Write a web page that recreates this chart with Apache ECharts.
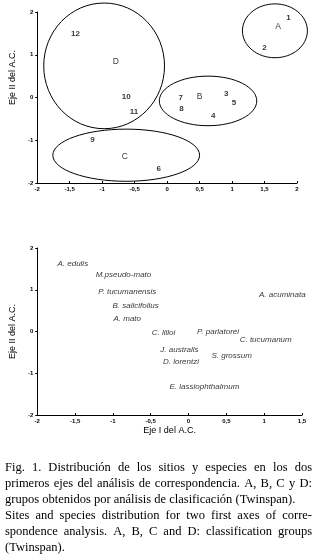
<!DOCTYPE html>
<html><head><meta charset="utf-8">
<script src="https://cdn.jsdelivr.net/npm/echarts@6/dist/echarts.min.js"></script>
<style>html,body{margin:0;padding:0;background:#fff}#c{width:316px;height:560px}</style>
</head><body><div id="c"></div>
<script>
// ---- Top chart: sites (numbers) ----
const siteLabels = ['1','2','12','10','11','9','6','7','8','3','5','4'];
const siteX = [1.87, 1.50, -1.41, -0.63, -0.51, -1.15, -0.13, 0.21, 0.22, 0.91, 1.03, 0.71];
const siteY = [1.86, 1.16, 1.49, 0.01, -0.34, -0.99, -1.67, -0.01, -0.27, 0.08, -0.13, -0.43];

// ---- Top chart: group letters ----
const groupLabels = ['A','B','C','D'];
const groupLabelX = [1.71, 0.50, -0.65, -0.79];
const groupLabelY = [1.65, 0.01, -1.39, 0.85];

// ---- Top chart: group ellipses (centre and radii in axis units) ----
const ellipseCX = [1.66, 0.63, -0.63, -0.97];
const ellipseCY = [1.56, -0.08, -1.35, 0.74];
const ellipseRX = [0.50, 0.75, 1.13, 0.93];
const ellipseRY = [0.63, 0.58, 0.61, 1.47];

// ---- Bottom chart: species ----
const speciesNames = ['A. edulis','M.pseudo-mato','P. tucumanensis','B. salicifolius','A. mato',
  'C. lilloi','P. parlatorei','C. tucumanum','J. australis','S. grossum','D. lorentzi',
  'E. lassiophthalmum','A. acuminata'];
const speciesX = [-1.53, -0.86, -0.81, -0.70, -0.81, -0.33, 0.39, 1.02, -0.12, 0.57, -0.10, 0.21, 1.24];
const speciesY = [1.63, 1.37, 0.96, 0.62, 0.31, -0.02, 0.00, -0.19, -0.43, -0.57, -0.72, -1.32, 0.89];

// ---- Axes ----
const topXMin = -2, topXMax = 2, botXMin = -2, botXMax = 1.5, xStep = 0.5;
const yMin = -2, yMax = 2, yStep = 1;
const yAxisName = 'Eje II del A.C.';
const xAxisName = 'Eje I del A.C.';

// ---- Caption ----
const captionLines = [
  'Fig. 1. Distribución de los sitios y especies en los dos',
  'primeros ejes del análisis de correspondencia. A, B, C y D:',
  'grupos obtenidos por análisis de clasificación (Twinspan).',
  'Sites and species distribution for two first axes of corre-',
  'spondence analysis. A, B, C and D: classification groups',
  '(Twinspan).'
];
const captionJustify = [true, true, false, true, true, false];

const sans = '"Liberation Sans", Arial, sans-serif';
const tickFmt = v => String(v).replace('.', ',');

function xAx(gi, min, max, withName) {
  return {
    gridIndex: gi, type: 'value', min: min, max: max, interval: xStep,
    axisLine: {show: true, onZero: false, lineStyle: {color: '#000', width: 1}},
    axisTick: {show: true, inside: true, length: 2, lineStyle: {color: '#000'}},
    axisLabel: {fontSize: 6, fontWeight: 'bold', color: '#000', margin: 3, fontFamily: sans, formatter: tickFmt},
    splitLine: {show: false},
    name: withName ? xAxisName : '', nameLocation: 'middle', nameGap: 11,
    nameTextStyle: {fontSize: 9, color: '#000', fontFamily: sans}
  };
}
function yAx(gi, pad) {
  return {
    gridIndex: gi, type: 'value', min: yMin, max: yMax, interval: yStep,
    axisLine: {show: true, onZero: false, lineStyle: {color: '#000', width: 1}},
    axisTick: {show: true, length: 2, lineStyle: {color: '#000'}},
    axisLabel: {fontSize: 6, fontWeight: 'bold', color: '#000', margin: 4, fontFamily: sans, formatter: tickFmt},
    splitLine: {show: false},
    name: yAxisName, nameLocation: 'middle', nameGap: 9,
    nameTextStyle: {fontSize: 9, color: '#000', fontFamily: sans, padding: pad}
  };
}

const siteData = siteLabels.map((l, i) => ({value: [siteX[i], siteY[i]], name: l}));
const groupData = groupLabels.map((l, i) => ({value: [groupLabelX[i], groupLabelY[i]], name: l}));
const ellipseData = ellipseCX.map((c, i) => [c, ellipseCY[i], ellipseRX[i], ellipseRY[i]]);
const speciesData = speciesNames.map((n, i) => ({value: [speciesX[i], speciesY[i]], name: n}));

// caption layout (justified lines)
const capFontSize = 12.5, capFamily = '"Liberation Serif", "Times New Roman", serif';
const ctx = document.createElement('canvas').getContext('2d');
ctx.font = capFontSize + 'px ' + capFamily;
const capLeft = 5, capRight = 312, capTop = 468, capStep = 16;
const graphics = [];
captionLines.forEach((line, i) => {
  const y = capTop + i * capStep;
  const st = t => ({text: t, fontSize: capFontSize, fontFamily: capFamily, fill: '#000', verticalAlign: 'middle', align: 'left'});
  if (!captionJustify[i]) { graphics.push({type: 'text', x: capLeft, y: y, style: st(line)}); return; }
  const words = line.split(' ');
  const widths = words.map(w => ctx.measureText(w).width);
  const total = widths.reduce((a, b) => a + b, 0);
  const gap = (capRight - capLeft - total) / (words.length - 1);
  let x = capLeft;
  words.forEach((w, j) => { graphics.push({type: 'text', x: x, y: y, style: st(w)}); x += widths[j] + gap; });
});

const chart = echarts.init(document.getElementById('c'), null, {renderer: 'canvas'});
chart.setOption({
  animation: false,
  backgroundColor: '#fff',
  grid: [
    {left: 25, top: 12, width: 272, height: 171},
    {left: 25, top: 248, width: 277, height: 167}
  ],
  xAxis: [xAx(0, topXMin, topXMax, false), xAx(1, botXMin, botXMax, true)],
  yAxis: [yAx(0, [0, 0, 0, 40]), yAx(1, 0)],
  series: [
    {
      type: 'custom', xAxisIndex: 0, yAxisIndex: 0, clip: false, silent: true,
      data: ellipseData,
      renderItem: function (params, api) {
        const c = api.coord([api.value(0), api.value(1)]);
        const s = api.size([api.value(2), api.value(3)]);
        return {type: 'ellipse', shape: {cx: c[0], cy: c[1], rx: s[0], ry: s[1]},
          style: {fill: null, stroke: '#000', lineWidth: 1}};
      }
    },
    {
      type: 'scatter', xAxisIndex: 0, yAxisIndex: 0, symbolSize: 1, itemStyle: {color: 'rgba(0,0,0,0)'},
      data: siteData,
      label: {show: true, position: 'inside', formatter: p => p.name, fontSize: 8, fontWeight: 'bold', color: '#000', fontFamily: sans}
    },
    {
      type: 'scatter', xAxisIndex: 0, yAxisIndex: 0, symbolSize: 1, itemStyle: {color: 'rgba(0,0,0,0)'},
      data: groupData,
      label: {show: true, position: 'inside', formatter: p => p.name, fontSize: 8.5, color: '#000', fontFamily: sans}
    },
    {
      type: 'scatter', xAxisIndex: 1, yAxisIndex: 1, symbolSize: 1, itemStyle: {color: 'rgba(0,0,0,0)'},
      data: speciesData,
      label: {show: true, position: 'inside', formatter: p => p.name, fontSize: 8, fontStyle: 'italic', color: '#000', fontFamily: sans}
    }
  ],
  graphic: graphics
});
</script>
</body></html>
